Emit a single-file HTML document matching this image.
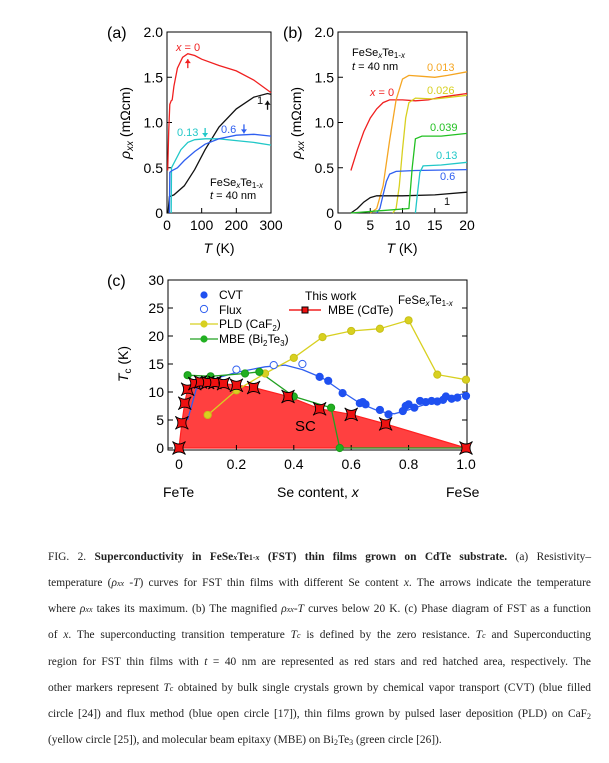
<!DOCTYPE html>
<html><head><meta charset="utf-8">
<style>
body{margin:0;background:#fff;width:609px;height:763px;overflow:hidden;position:relative;font-family:"Liberation Sans",sans-serif}
svg{position:absolute;left:0;top:0}
.cap{position:absolute;left:48px;width:543px;font-family:"Liberation Serif",serif;font-size:11.4px;color:#222;text-align:justify;text-align-last:justify;white-space:nowrap;line-height:14px}
.cap.last{text-align-last:left}
sub{font-size:8px;vertical-align:-2px}
</style></head><body>
<svg id="fig" width="609" height="520"></svg>
<div class="cap" style="top:550px">FIG. 2. <b>Superconductivity in FeSe<i style="font-size:8px">x</i>Te<span style="font-size:8px">1-<i>x</i></span> (FST) thin films grown on CdTe substrate.</b> (a) Resistivity–</div>
<div class="cap" style="top:576px">temperature (<i>ρ<span style="font-size:8px">xx</span></i> -<i>T</i>) curves for FST thin films with different Se content <i>x</i>. The arrows indicate the temperature</div>
<div class="cap" style="top:602px">where <i>ρ<span style="font-size:8px">xx</span></i> takes its maximum. (b) The magnified <i>ρ<span style="font-size:8px">xx</span>-T</i> curves below 20 K. (c) Phase diagram of FST as a function</div>
<div class="cap" style="top:628px">of <i>x</i>. The superconducting transition temperature <i>T<span style="font-size:8px">c</span></i> is defined by the zero resistance. <i>T<span style="font-size:8px">c</span></i> and Superconducting</div>
<div class="cap" style="top:655px">region for FST thin films with <i>t</i> = 40 nm are represented as red stars and red hatched area, respectively. The</div>
<div class="cap" style="top:681px">other markers represent <i>T<span style="font-size:8px">c</span></i> obtained by bulk single crystals grown by chemical vapor transport (CVT) (blue filled</div>
<div class="cap" style="top:707px">circle [24]) and flux method (blue open circle [17]), thin films grown by pulsed laser deposition (PLD) on CaF<sub>2</sub></div>
<div class="cap last" style="top:733px">(yellow circle [25]), and molecular beam epitaxy (MBE) on Bi<sub>2</sub>Te<sub>3</sub> (green circle [26]).</div>
<script>
// ---- Panel (a) data ----
const aRedT=[2,5,8,12,15,20,30,45,60,80,100,150,200,250,300];
const aRedR=[0.47,0.9,1.2,1.24,1.25,1.4,1.6,1.72,1.76,1.74,1.70,1.63,1.57,1.47,1.33];
const aCyanT=[12,13,20,40,60,80,110,150,200,250,300];
const aCyanR=[0,0.5,0.55,0.7,0.78,0.81,0.82,0.82,0.8,0.78,0.75];
const aBlueT=[7,8,15,30,50,80,110,150,200,250,300];
const aBlueR=[0,0.45,0.47,0.5,0.58,0.68,0.76,0.82,0.86,0.87,0.85];
const aBlackT=[3,7,20,50,80,110,150,200,250,290,300];
const aBlackR=[0,0.18,0.2,0.3,0.48,0.7,0.95,1.15,1.28,1.32,1.31];
// ---- Panel (b) data ----
const bRedT=[2,3,4,5,6,7,8,10,12,14,16,18,20];
const bRedR=[0.47,0.7,0.9,1.05,1.15,1.22,1.25,1.25,1.24,1.25,1.28,1.3,1.32];
const bOrT=[5,6,7,8,9,10,11,13,15,17,20];
const bOrR=[0,0.05,0.3,0.8,1.25,1.48,1.52,1.51,1.5,1.52,1.56];
const bYeT=[8.5,9,9.5,10,10.5,11,12,15,20];
const bYeR=[0,0.05,0.3,0.7,1.05,1.22,1.27,1.26,1.3];
const bGrT=[2,11,11.5,12,13,16,20];
const bGrR=[0,0.05,0.5,0.82,0.85,0.85,0.88];
const bCyT=[12,12.3,12.7,13.2,16,20];
const bCyR=[0,0.2,0.45,0.52,0.53,0.56];
const bBlT=[6,6.5,7,7.5,8,9,12,20];
const bBlR=[0,0.05,0.2,0.35,0.43,0.46,0.47,0.48];
const bBkT=[2,3,4,5,6,10,15,20];
const bBkR=[0,0.05,0.12,0.17,0.19,0.19,0.2,0.23];
// ---- Panel (c) data ----
const starX=[0,0.01,0.02,0.03,0.055,0.075,0.1,0.125,0.155,0.2,0.26,0.38,0.49,0.6,0.72,1.0];
const starT=[0,4.5,8,10.5,11.5,11.8,11.7,11.7,11.5,11.2,10.8,9.2,7,6,4.3,0];
const cvtX=[0.49,0.52,0.57,0.63,0.64,0.65,0.7,0.73,0.78,0.79,0.8,0.82,0.84,0.86,0.88,0.9,0.92,0.93,0.95,0.97,1.0];
const cvtT=[12.7,12,9.8,8,8.2,7.8,6.8,6,6.6,7.5,7.8,7.2,8.4,8.2,8.4,8.3,8.6,9.2,8.8,9,9.3];
const fitX=[0.03,0.06,0.1,0.2,0.3,0.37,0.43,0.5,0.57,0.63,0.7,0.75,0.8,0.9,1.0];
const fitT=[5,10.5,12,13.5,14.5,14.8,14,12.5,10,8,6.5,6.1,6.8,8.5,9.8];
const fluxX=[0.2,0.33,0.43];
const fluxT=[14,14.8,15];
const pldX=[0.1,0.2,0.3,0.4,0.5,0.6,0.7,0.8,0.9,1.0];
const pldT=[5.9,10.3,13.3,16.1,19.8,20.9,21.3,22.8,13.1,12.2];
const mbeX=[0.03,0.11,0.23,0.28,0.4,0.53,0.56];
const mbeT=[13,12.8,13.3,13.6,9.2,7.2,0];
const cXTicks=[0,0.2,0.4,0.6,0.8,1.0];
const cXLabels=["0","0.2","0.4","0.6","0.8","1.0"];
const cYTicks=[0,5,10,15,20,25,30];

const NS="http://www.w3.org/2000/svg";
const svg=document.getElementById('fig');
function el(tag,at,parent){const e=document.createElementNS(NS,tag);for(const k in at)e.setAttribute(k,at[k]);(parent||svg).appendChild(e);return e;}
function txt(s,x,y,at){const t=el('text',Object.assign({x:x,y:y,'font-size':14,fill:'#000'},at||{}));t.innerHTML=s;return t;}
function lin(d0,d1,r0,r1){return v=>r0+(v-d0)/(d1-d0)*(r1-r0);}

const axA=lin(0,300,167,271), ayA=lin(0,2,213,32);
const axB=lin(0,20,338,467), ayB=ayA;
function frame(x0,x1,y0,y1,name){const r=el('rect',{x:x0,y:y1,width:x1-x0,height:y0-y1,fill:'none',stroke:'#000','stroke-width':1});}
function curve(X,Y,ax,ay,col,name){const d=X.map((v,i)=>(i?'L':'M')+ax(v).toFixed(1)+','+ay(Y[i]).toFixed(1)).join(' ');const p=el('path',{d:d,fill:'none',stroke:col,'stroke-width':1.3});}
frame(167,271,213,32,'plot-a-frame');frame(338,467,213,32,'plot-b-frame');
[0,0.5,1,1.5,2].forEach(v=>{
  const lbl=v===0?'0':v.toFixed(1);
  [[167,'a'],[338,'b']].forEach(([x0,p])=>{
    el('line',{x1:x0,x2:x0+5,y1:ayA(v),y2:ayA(v),stroke:'#000'});
    const t=txt(lbl,x0-4,ayA(v)+5,{'text-anchor':'end'});
  });
});
[0,100,200,300].forEach(v=>{el('line',{x1:axA(v),x2:axA(v),y1:213,y2:208,stroke:'#000'});const t=txt(String(v),axA(v),230,{'text-anchor':'middle'});});
[0,5,10,15,20].forEach(v=>{el('line',{x1:axB(v),x2:axB(v),y1:213,y2:208,stroke:'#000'});const t=txt(String(v),axB(v),230,{'text-anchor':'middle'});});
txt('(a)',107,38,{'font-size':16});txt('(b)',283,38,{'font-size':16});txt('(c)',107,286,{'font-size':16});
txt('<tspan font-style="italic">T</tspan> (K)',219,253,{'text-anchor':'middle'});
txt('<tspan font-style="italic">T</tspan> (K)',402,253,{'text-anchor':'middle'});
txt('<tspan font-style="italic">ρ<tspan font-size="10" dy="3">xx</tspan></tspan><tspan dy="-3"> (mΩcm)</tspan>',0,0,{transform:'translate(130,123) rotate(-90)','text-anchor':'middle'});
txt('<tspan font-style="italic">ρ<tspan font-size="10" dy="3">xx</tspan></tspan><tspan dy="-3"> (mΩcm)</tspan>',0,0,{transform:'translate(301,123) rotate(-90)','text-anchor':'middle'});
curve(aBlackT,aBlackR,axA,ayA,'#111','curve-a-x1');
curve(aCyanT,aCyanR,axA,ayA,'#22c8c8','curve-a-x013');
curve(aBlueT,aBlueR,axA,ayA,'#2f5ff0','curve-a-x06');
curve(aRedT,aRedR,axA,ayA,'#f02020','curve-a-x0');
function arrow(x,y,dir,col){const s=dir;el('path',{d:`M ${x} ${y} L ${x} ${y+9*s}`,stroke:col,'stroke-width':1.3});el('path',{d:`M ${x-3} ${y+4*s} L ${x} ${y} L ${x+3} ${y+4*s} Z`,fill:col});}
arrow(axA(60),ayA(1.7),1,'#f02020');arrow(axA(110),ayA(0.84),-1,'#22c8c8');arrow(axA(222),ayA(0.88),-1,'#2f5ff0');arrow(axA(290),ayA(1.24),1,'#111');
txt('<tspan font-style="italic">x</tspan> = 0',176,51,{'font-size':11,fill:'#f02020'});
txt('0.13',177,136,{'font-size':11,fill:'#22c8c8'});txt('0.6',221,133,{'font-size':11,fill:'#2f5ff0'});txt('1',257,104,{'font-size':11,fill:'#111'});
txt('FeSe<tspan font-style="italic" font-size="8" dy="2">x</tspan><tspan dy="-2">Te</tspan><tspan font-size="8" dy="2">1-<tspan font-style="italic">x</tspan></tspan>',210,186,{'font-size':11});
txt('<tspan font-style="italic">t</tspan> = 40 nm',210,199,{'font-size':11});
curve(bRedT,bRedR,axB,ayB,'#f02020','curve-b-x0');
curve(bOrT,bOrR,axB,ayB,'#f5a623','curve-b-x0013');
curve(bYeT,bYeR,axB,ayB,'#d8d020','curve-b-x0026');
curve(bBkT,bBkR,axB,ayB,'#111','curve-b-x1');
curve(bBlT,bBlR,axB,ayB,'#2f5ff0','curve-b-x06');
curve(bCyT,bCyR,axB,ayB,'#22c8c8','curve-b-x013');
curve(bGrT,bGrR,axB,ayB,'#22c022','curve-b-x0039');
txt('FeSe<tspan font-style="italic" font-size="8" dy="2">x</tspan><tspan dy="-2">Te</tspan><tspan font-size="8" dy="2">1-<tspan font-style="italic">x</tspan></tspan>',352,56,{'font-size':11});
txt('<tspan font-style="italic">t</tspan> = 40 nm',352,70,{'font-size':11});
txt('0.013',427,71,{'font-size':11,fill:'#f5a623'});txt('0.026',427,94,{'font-size':11,fill:'#d8d020'});
txt('<tspan font-style="italic">x</tspan> = 0',370,96,{'font-size':11,fill:'#f02020'});
txt('0.039',430,131,{'font-size':11,fill:'#22c022'});txt('0.13',436,159,{'font-size':11,fill:'#22c8c8'});
txt('0.6',440,180,{'font-size':11,fill:'#2f5ff0'});txt('1',444,205,{'font-size':11,fill:'#111'});
const cx=lin(0,1,179,466), cy=lin(0,30,448,280);
frame(168,467,450,280,'plot-c-frame');
const area=starX.map((v,i)=>cx(v)+','+cy(starT[i])).join(' ');
const poly=el('polygon',{points:area,fill:'#ff4040',stroke:'#ff2020','stroke-width':1.2});

txt('SC',295,431,{'font-size':15});
cYTicks.forEach(v=>{el('line',{x1:168,x2:173,y1:cy(v),y2:cy(v),stroke:'#000'});el('line',{x1:467,x2:462,y1:cy(v),y2:cy(v),stroke:'#000'});const t=txt(String(v),164,cy(v)+5,{'text-anchor':'end'});});
cXTicks.forEach((v,i)=>{el('line',{x1:cx(v),x2:cx(v),y1:450,y2:445,stroke:'#000'});const t=txt(cXLabels[i],cx(v),469,{'text-anchor':'middle'});});
txt('<tspan font-style="italic">T</tspan><tspan font-size="10" dy="3">c</tspan><tspan dy="-3"> (K)</tspan>',0,0,{transform:'translate(128,364) rotate(-90)','text-anchor':'middle'});
txt('FeTe',163,497);txt('Se content, <tspan font-style="italic">x</tspan>',277,497);txt('FeSe',446,497);
curve(fitX,fitT,cx,cy,'#2f5ff0','cvt-fit-line');
curve(pldX,pldT,cx,cy,'#d8d020','pld-line');
curve(mbeX.concat([1.0]),mbeT.concat([0]),cx,cy,'#22a022','mbe-bi2te3-line');
function dots(X,Y,col,fill,name){X.forEach((v,i)=>{const c=el('circle',{cx:cx(v),cy:cy(Y[i]),r:3.6,fill:fill,stroke:col,'stroke-width':1});});}
dots(pldX,pldT,'#c8c018','#d8d020','pld-point');
dots(mbeX,mbeT,'#1a9a1a','#22b022','mbe-bi2te3-point');
dots(cvtX,cvtT,'#1f50f0','#1f50f0','cvt-point');
dots(fluxX,fluxT,'#2f5ff0','#fff','flux-point');
function star(x,y,name){const r=6.5,k=1.5;const d=`M ${x-r} ${y-r} Q ${x} ${y-k} ${x+r} ${y-r} Q ${x+k} ${y} ${x+r} ${y+r} Q ${x} ${y+k} ${x-r} ${y+r} Q ${x-k} ${y} ${x-r} ${y-r} Z`;const s=el('path',{d:d,fill:'#ee1010',stroke:'#000','stroke-width':0.9});}
starX.forEach((v,i)=>star(cx(v),cy(starT[i]),'tc-star'));
const lg=el('g',{});
el('circle',{cx:204,cy:295,r:3.6,fill:'#1f50f0'},lg);txt('CVT',219,299,{'font-size':12});
el('circle',{cx:204,cy:309,r:3.6,fill:'#fff',stroke:'#2f5ff0'},lg);txt('Flux',219,314,{'font-size':12});
el('line',{x1:190,x2:218,y1:324,y2:324,stroke:'#d8d020','stroke-width':1.3},lg);el('circle',{cx:204,cy:324,r:3.6,fill:'#d8d020'},lg);txt('PLD (CaF<tspan font-size="8" dy="3">2</tspan><tspan dy="-3">)</tspan>',219,328,{'font-size':12});
el('line',{x1:190,x2:218,y1:339,y2:339,stroke:'#22a022','stroke-width':1.3},lg);el('circle',{cx:204,cy:339,r:3.6,fill:'#22b022'},lg);txt('MBE (Bi<tspan font-size="8" dy="3">2</tspan><tspan dy="-3">Te</tspan><tspan font-size="8" dy="3">3</tspan><tspan dy="-3">)</tspan>',219,343,{'font-size':12});
txt('This work',305,300,{'font-size':12});
el('line',{x1:289,x2:321,y1:310,y2:310,stroke:'#f02020','stroke-width':1.5},lg);
el('rect',{x:302,y:307,width:6,height:6,fill:'#ee1010',stroke:'#000'},lg);
txt('MBE (CdTe)',328,314,{'font-size':12});
txt('FeSe<tspan font-style="italic" font-size="8" dy="2">x</tspan><tspan dy="-2">Te</tspan><tspan font-size="8" dy="2">1-<tspan font-style="italic">x</tspan></tspan>',398,304,{'font-size':11.5});
</script>
</body></html>
